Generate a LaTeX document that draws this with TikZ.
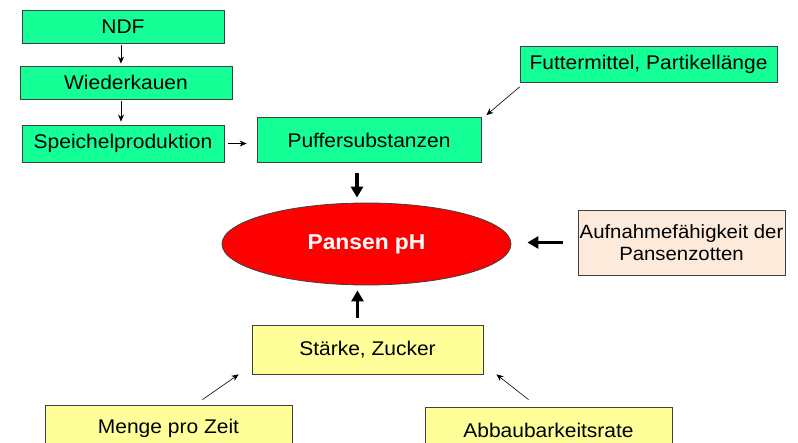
\documentclass[tikz,border=0pt]{standalone}
\usepackage{fontspec}
\setmainfont[FakeStretch=1.06]{Liberation Sans}
\usetikzlibrary{arrows.meta,shapes.geometric}
\definecolor{boxgreen}{RGB}{20,255,150}
\definecolor{boxyellow}{RGB}{255,255,153}
\definecolor{boxpeach}{RGB}{253,234,218}
\begin{document}
\begin{tikzpicture}
[x=1pt,y=-1pt,every node/.style={draw=black!75,line width=0.8pt,font=\fontsize{19.8}{22.5}\selectfont,align=center},
 gbox/.style={fill=boxgreen},
 ybox/.style={fill=boxyellow},
 thinarrow/.style={-{Stealth[length=7pt,width=6pt]},line width=0.6pt},
 thickarrow/.style={-{Triangle[length=11pt,width=12pt]},line width=3.2pt}]
\useasboundingbox (0,0) rectangle (798,443);
\node[gbox,minimum width=202pt,minimum height=33pt] (ndf) at (123,26.5) {NDF};
\node[gbox,minimum width=212pt,minimum height=33pt] (wied) at (126,82.5) {Wiederkauen};
\node[gbox,minimum width=202pt,minimum height=37pt] (speich) at (123,143.5) {Speichelproduktion};
\node[gbox,minimum width=224pt,minimum height=45pt] (puffer) at (369,140) {Puffersubstanzen};
\node[gbox,minimum width=257pt,minimum height=36pt] (futter) at (648.5,64.5) {Futtermittel, Partikellänge};
\node[ellipse,fill=red,inner sep=0pt,minimum width=289pt,minimum height=82pt,font=\fontsize{21.5}{24}\selectfont\bfseries,text=white] (pansen) at (366.5,244) {Pansen pH};
\node[fill=boxpeach,minimum width=207pt,minimum height=65pt,inner xsep=0pt,font=\fontsize{19.2}{22.5}\selectfont] (aufn) at (681.5,242.5) {Aufnahmefähigkeit der\\Pansenzotten};
\node[ybox,minimum width=231pt,minimum height=49pt] (staerke) at (367.5,349.5) {Stärke, Zucker};
\node[ybox,minimum width=247pt,minimum height=46pt] (menge) at (168.5,428) {Menge pro Zeit};
\node[ybox,minimum width=247pt,minimum height=46pt] (abbau) at (548.5,430) {Abbaubarkeitsrate};
\draw[thinarrow,shorten <=2pt,shorten >=2pt] ([xshift=-2pt]ndf.south) -- ([xshift=-2pt]ndf.south |- wied.north);
\draw[thinarrow,shorten <=2pt,shorten >=3pt] ([xshift=-2pt]speich.north |- wied.south) -- ([xshift=-2pt]speich.north);
\draw[thinarrow,shorten <=4pt,shorten >=10pt] (speich.east) -- (speich.east -| puffer.west);
\draw[thinarrow] ([yshift=-4pt]futter.south west) -- ([xshift=5pt,yshift=2pt]puffer.north east);
\draw[thickarrow,shorten <=10pt,shorten >=5pt] ([xshift=-12pt]puffer.south) -- ([xshift=-12pt]puffer.south |- pansen.north);
\draw[thickarrow,shorten <=7pt,shorten >=5pt] ([xshift=-10pt]staerke.north) -- ([xshift=-10pt]staerke.north |- pansen.south);
\draw[thickarrow,shorten <=15pt,shorten >=16pt] (aufn.west) -- (aufn.west -| pansen.east);
\draw[thinarrow] ([xshift=34pt,yshift=5pt]menge.north) -- ([xshift=-13pt]staerke.south west);
\draw[thinarrow] ([xshift=-20pt,yshift=7pt]abbau.north) -- ([xshift=13pt]staerke.south east);
\end{tikzpicture}
\end{document}
